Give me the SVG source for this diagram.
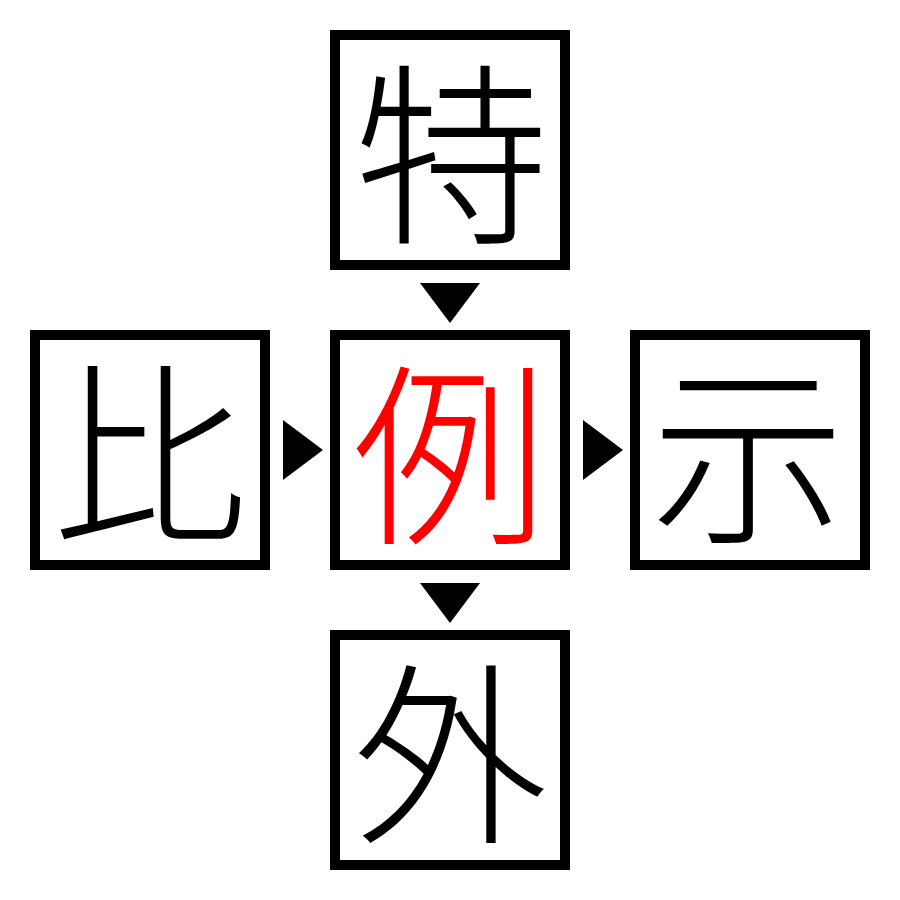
<svg xmlns="http://www.w3.org/2000/svg" width="900" height="900" viewBox="0 0 900 900">
<style>
.box rect{fill:#fff;stroke:#000;stroke-width:10}
.box text{font-family:"Noto Sans CJK JP","Noto Sans CJK SC",serif;font-size:195px;text-anchor:middle;dominant-baseline:central;fill:#000;font-weight:300}
#n-center text{fill:#f00}
.arr{fill:#000}
</style>
<rect width="900" height="900" fill="#fff"/>
<g id="n-top" class="box"><rect x="335" y="35" width="230" height="230"/><text x="452" y="144">特</text></g>
<g id="n-left" class="box"><rect x="35" y="335" width="230" height="230"/><text x="150" y="444">比</text></g>
<g id="n-center" class="box"><rect x="335" y="335" width="230" height="230"/><text x="450" y="444">例</text></g>
<g id="n-right" class="box"><rect x="635" y="335" width="230" height="230"/><text x="748" y="444">示</text></g>
<g id="n-bottom" class="box"><rect x="335" y="635" width="230" height="230"/><text x="450" y="744">外</text></g>
<g id="connectors" class="arr">
<polygon points="420,283 480,283 450,323"/>
<polygon points="283,420 323,450 283,480"/>
<polygon points="583,420 623,450 583,480"/>
<polygon points="420,583 480,583 450,623"/>
</g>
</svg>
